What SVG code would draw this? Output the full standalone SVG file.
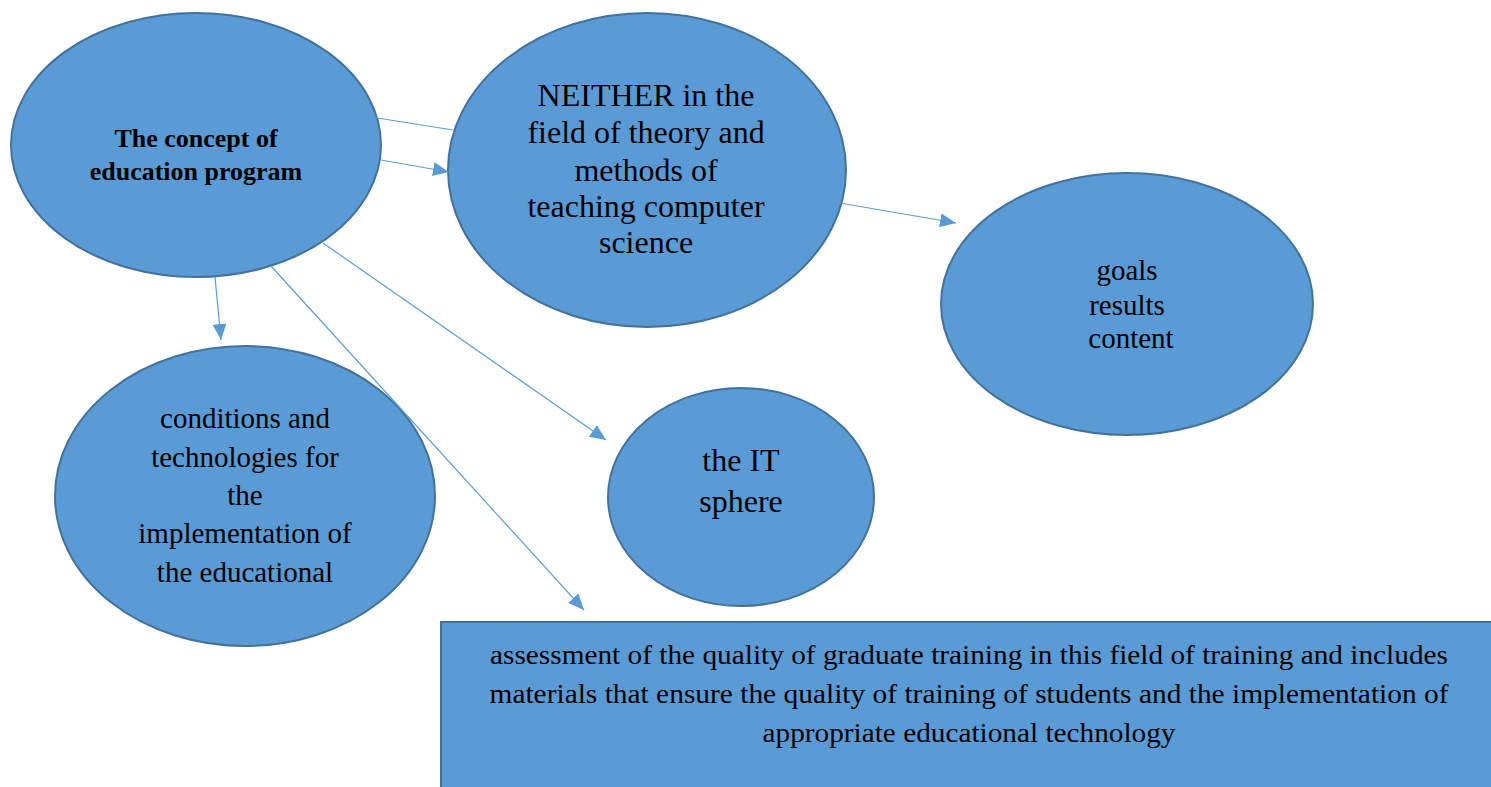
<svg xmlns="http://www.w3.org/2000/svg" width="1491" height="787" viewBox="0 0 1491 787">
<style>
.node{fill:#5B9BD5;stroke:#41719C;stroke-width:2}
.t{font-family:"Liberation Serif","Times New Roman",serif;fill:#000;text-anchor:middle}
.b{font-weight:bold}
.c{stroke:#5B9BD5;stroke-width:1.2;fill:none}
</style>
<defs>
<marker id="ah" markerUnits="userSpaceOnUse" markerWidth="18" markerHeight="14" refX="16" refY="7" orient="auto">
<path d="M0,0 L16,7 L0,14 Z" fill="#5B9BD5"/>
</marker>
</defs>
<rect width="1491" height="787" fill="#fff"/>
<g id="node-concept">
<ellipse class="node" cx="196" cy="145" rx="185" ry="132"/>
<text class="t b" font-size="26"><tspan x="196" y="147">The concept of</tspan><tspan x="196" y="180">education program</tspan></text>
</g>
<g id="node-neither">
<ellipse class="node" cx="647" cy="170" rx="199" ry="157"/>
<text class="t" font-size="32"><tspan x="646" y="106">NEITHER in the</tspan><tspan x="646" y="143">field of theory and</tspan><tspan x="646" y="181">methods of</tspan><tspan x="646" y="217">teaching computer</tspan><tspan x="646" y="253">science</tspan></text>
</g>
<g id="node-goals">
<ellipse class="node" cx="1127" cy="304" rx="186" ry="131"/>
<text class="t" font-size="29"><tspan x="1127" y="280">goals</tspan><tspan x="1127" y="315">results</tspan><tspan x="1131" y="348">content</tspan></text>
</g>
<g id="node-conditions">
<ellipse class="node" cx="245" cy="496" rx="190" ry="150"/>
<text class="t" font-size="29"><tspan x="245" y="428">conditions and</tspan><tspan x="245" y="467">technologies for</tspan><tspan x="245" y="505">the</tspan><tspan x="245" y="543">implementation of</tspan><tspan x="245" y="582">the educational</tspan></text>
</g>
<g id="node-it">
<ellipse class="node" cx="741" cy="497" rx="133" ry="109"/>
<text class="t" font-size="32"><tspan x="741" y="471">the IT</tspan><tspan x="741" y="512">sphere</tspan></text>
</g>
<g id="node-assessment">
<rect class="node" x="441" y="622" width="1060" height="180"/>
<text class="t" font-size="28"><tspan x="969" y="664" textLength="958" lengthAdjust="spacingAndGlyphs">assessment of the quality of graduate training in this field of training and includes</tspan></text>
<text class="t" font-size="28"><tspan x="969" y="703" textLength="959" lengthAdjust="spacingAndGlyphs">materials that ensure the quality of training of students and the implementation of</tspan></text>
<text class="t" font-size="28"><tspan x="969" y="742" textLength="413" lengthAdjust="spacingAndGlyphs">appropriate educational technology</tspan></text>
</g>
<g id="connectors">
<line class="c" x1="371" y1="117" x2="453" y2="130"/>
<line class="c" x1="381" y1="160" x2="449" y2="172" marker-end="url(#ah)"/>
<line class="c" x1="840" y1="203" x2="956" y2="223" marker-end="url(#ah)"/>
<line class="c" x1="215" y1="277" x2="221" y2="340" marker-end="url(#ah)"/>
<line class="c" x1="323" y1="243" x2="606" y2="440" marker-end="url(#ah)"/>
<line class="c" x1="271" y1="266" x2="584" y2="610" marker-end="url(#ah)"/>
</g>
</svg>
